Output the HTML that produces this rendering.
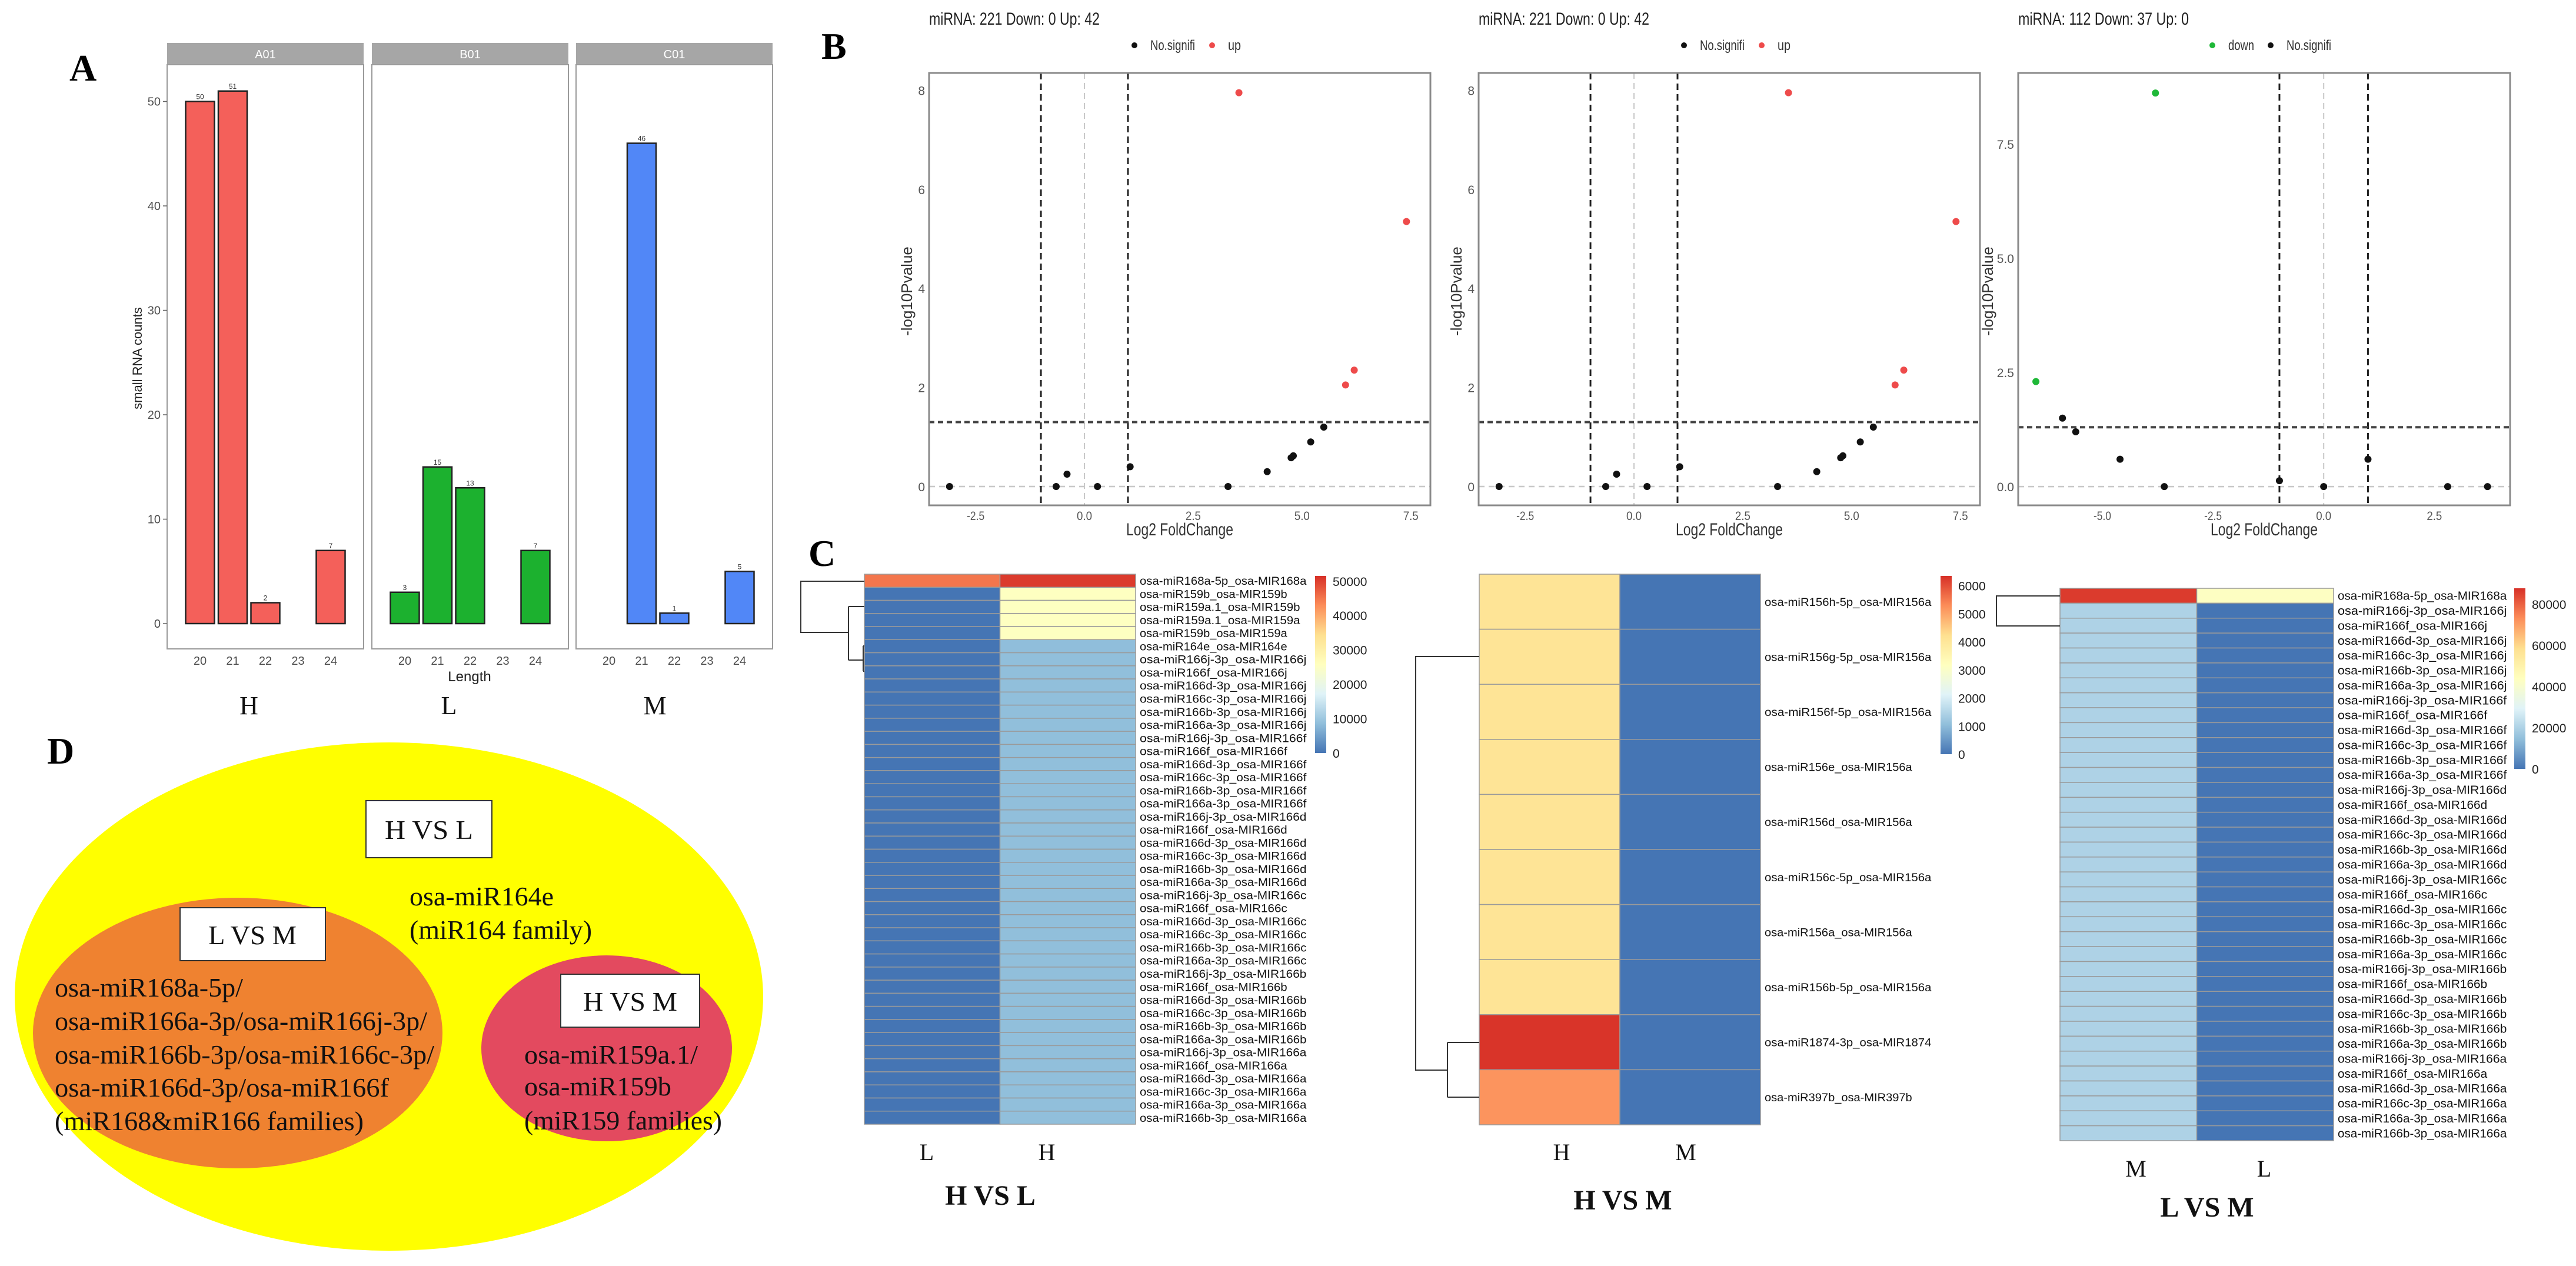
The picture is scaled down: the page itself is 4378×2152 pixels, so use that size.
<!DOCTYPE html>
<html><head><meta charset="utf-8"><style>
html,body{margin:0;padding:0;background:#fff;}
svg{display:block;}
</style></head><body>
<svg id="fig" xmlns="http://www.w3.org/2000/svg" width="4378" height="2152" viewBox="0 0 4378 2152" font-family="Liberation Sans, sans-serif">
<rect width="4378" height="2152" fill="#fff"/>
<g id="barA"></g>
<g id="volB"></g>
<g id="heatC"></g>
<g id="vennD">
  <ellipse cx="661" cy="1694" rx="636" ry="432" fill="#ffff00"/>
  <ellipse cx="404" cy="1756" rx="348" ry="230" fill="#ef8230"/>
  <ellipse cx="1031" cy="1782" rx="213" ry="158" fill="#e34a5f"/>
  <g font-family="Liberation Serif, serif" font-size="46" fill="#111">
    <rect x="622" y="1361" width="214" height="97" fill="#fff" stroke="#333" stroke-width="2"/>
    <text x="729" y="1426" text-anchor="middle" textLength="150" lengthAdjust="spacingAndGlyphs">H VS L</text>
    <rect x="306" y="1543" width="247" height="90" fill="#fff" stroke="#333" stroke-width="2"/>
    <text x="429" y="1605" text-anchor="middle" textLength="150" lengthAdjust="spacingAndGlyphs">L VS M</text>
    <rect x="953" y="1656" width="236" height="90" fill="#fff" stroke="#333" stroke-width="2"/>
    <text x="1071" y="1718" text-anchor="middle" textLength="160" lengthAdjust="spacingAndGlyphs">H VS M</text>
    <text x="696" y="1539" textLength="245" lengthAdjust="spacingAndGlyphs">osa-miR164e</text>
    <text x="696" y="1596" textLength="310" lengthAdjust="spacingAndGlyphs">(miR164 family)</text>
    <text x="93" y="1694" textLength="320" lengthAdjust="spacingAndGlyphs">osa-miR168a-5p/</text>
    <text x="93" y="1751" textLength="633" lengthAdjust="spacingAndGlyphs">osa-miR166a-3p/osa-miR166j-3p/</text>
    <text x="93" y="1808" textLength="645" lengthAdjust="spacingAndGlyphs">osa-miR166b-3p/osa-miR166c-3p/</text>
    <text x="93" y="1864" textLength="568" lengthAdjust="spacingAndGlyphs">osa-miR166d-3p/osa-miR166f</text>
    <text x="93" y="1921" textLength="525" lengthAdjust="spacingAndGlyphs">(miR168&amp;miR166 families)</text>
    <text x="891" y="1808" textLength="295" lengthAdjust="spacingAndGlyphs">osa-miR159a.1/</text>
    <text x="891" y="1862" textLength="250" lengthAdjust="spacingAndGlyphs">osa-miR159b</text>
    <text x="891" y="1920" textLength="336" lengthAdjust="spacingAndGlyphs">(miR159 families)</text>
  </g>
</g>
<g font-family="Liberation Serif, serif" font-weight="bold" font-size="64" fill="#000">
  <text x="118" y="137">A</text>
  <text x="1396" y="100">B</text>
  <text x="1374" y="962">C</text>
  <text x="80" y="1298">D</text>
</g>
</svg>
<script>
// ---------- Panel A data ----------
const barLengths = [20, 21, 22, 23, 24];
const barSamples = ['A01', 'B01', 'C01'];
const barGroupLabels = ['H', 'L', 'M'];
const barCountsA01 = [50, 51, 2, 0, 7];
const barCountsB01 = [3, 15, 13, 0, 7];
const barCountsC01 = [0, 46, 1, 0, 5];
const barYTicks = [0, 10, 20, 30, 40, 50];

// ---------- Panel B data ----------
const volTitles = ['miRNA: 221 Down: 0 Up: 42', 'miRNA: 221 Down: 0 Up: 42', 'miRNA: 112 Down: 37 Up: 0'];
const vol1X = [-3.1, -0.65, -0.4, 0.3, 1.05, 3.3, 4.2, 4.75, 4.8, 5.2, 5.5, 3.55, 7.4, 6.0, 6.2];
const vol1Y = [0, 0, 0.25, 0, 0.4, 0, 0.3, 0.58, 0.62, 0.9, 1.2, 7.95, 5.35, 2.05, 2.35];
const vol1Cls = ['n','n','n','n','n','n','n','n','n','n','n','up','up','up','up'];
const vol2X = [-3.1, -0.65, -0.4, 0.3, 1.05, 3.3, 4.2, 4.75, 4.8, 5.2, 5.5, 3.55, 7.4, 6.0, 6.2];
const vol2Y = [0, 0, 0.25, 0, 0.4, 0, 0.3, 0.58, 0.62, 0.9, 1.2, 7.95, 5.35, 2.05, 2.35];
const vol2Cls = ['n','n','n','n','n','n','n','n','n','n','n','up','up','up','up'];
const vol3X = [-3.8, -6.5, -5.9, -5.6, -4.6, -3.6, -1.0, 0.0, 1.0, 2.8, 3.7];
const vol3Y = [8.62, 2.3, 1.5, 1.2, 0.6, 0, 0.13, 0, 0.6, 0, 0];
const vol3Cls = ['down','down','n','n','n','n','n','n','n','n','n'];
const vol12XTicks = [-2.5, 0.0, 2.5, 5.0, 7.5];
const vol12YTicks = [0, 2, 4, 6, 8];
const vol3XTicks = [-5.0, -2.5, 0.0, 2.5];
const vol3YTicks = [0.0, 2.5, 5.0, 7.5];

// ---------- Panel C data ----------
const hm1Rows = ['osa-miR168a-5p_osa-MIR168a','osa-miR159b_osa-MIR159b','osa-miR159a.1_osa-MIR159b','osa-miR159a.1_osa-MIR159a','osa-miR159b_osa-MIR159a','osa-miR164e_osa-MIR164e',
'osa-miR166j-3p_osa-MIR166j','osa-miR166f_osa-MIR166j','osa-miR166d-3p_osa-MIR166j','osa-miR166c-3p_osa-MIR166j','osa-miR166b-3p_osa-MIR166j','osa-miR166a-3p_osa-MIR166j',
'osa-miR166j-3p_osa-MIR166f','osa-miR166f_osa-MIR166f','osa-miR166d-3p_osa-MIR166f','osa-miR166c-3p_osa-MIR166f','osa-miR166b-3p_osa-MIR166f','osa-miR166a-3p_osa-MIR166f',
'osa-miR166j-3p_osa-MIR166d','osa-miR166f_osa-MIR166d','osa-miR166d-3p_osa-MIR166d','osa-miR166c-3p_osa-MIR166d','osa-miR166b-3p_osa-MIR166d','osa-miR166a-3p_osa-MIR166d',
'osa-miR166j-3p_osa-MIR166c','osa-miR166f_osa-MIR166c','osa-miR166d-3p_osa-MIR166c','osa-miR166c-3p_osa-MIR166c','osa-miR166b-3p_osa-MIR166c','osa-miR166a-3p_osa-MIR166c',
'osa-miR166j-3p_osa-MIR166b','osa-miR166f_osa-MIR166b','osa-miR166d-3p_osa-MIR166b','osa-miR166c-3p_osa-MIR166b','osa-miR166b-3p_osa-MIR166b','osa-miR166a-3p_osa-MIR166b',
'osa-miR166j-3p_osa-MIR166a','osa-miR166f_osa-MIR166a','osa-miR166d-3p_osa-MIR166a','osa-miR166c-3p_osa-MIR166a','osa-miR166a-3p_osa-MIR166a','osa-miR166b-3p_osa-MIR166a'];
const hm1Cols = ['L', 'H'];
const hm1ColL = [45000,0,0,0,0,0,0,0,0,0,0,0,0,0,0,0,0,0,0,0,0,0,0,0,0,0,0,0,0,0,0,0,0,0,0,0,0,0,0,0,0,0];
const hm1ColH = [50500,25500,25500,25500,25500,8500,8600,8600,8600,8600,8600,8600,8600,8600,8600,8600,8600,8600,8600,8600,8600,8600,8600,8600,8600,8600,8600,8600,8600,8600,8600,8600,8600,8600,8600,8600,8600,8600,8600,8600,8600,8600];
const hm1Ticks = [0, 10000, 20000, 30000, 40000, 50000];

const hm2Rows = ['osa-miR156h-5p_osa-MIR156a','osa-miR156g-5p_osa-MIR156a','osa-miR156f-5p_osa-MIR156a','osa-miR156e_osa-MIR156a','osa-miR156d_osa-MIR156a','osa-miR156c-5p_osa-MIR156a','osa-miR156a_osa-MIR156a','osa-miR156b-5p_osa-MIR156a','osa-miR1874-3p_osa-MIR1874','osa-miR397b_osa-MIR397b'];
const hm2Cols = ['H', 'M'];
const hm2ColH = [4100,4100,4100,4100,4100,4100,4100,4100,6300,5200];
const hm2ColM = [0,0,0,0,0,0,0,0,0,0];
const hm2Ticks = [0, 1000, 2000, 3000, 4000, 5000, 6000];

const hm3Rows = ['osa-miR168a-5p_osa-MIR168a',
'osa-miR166j-3p_osa-MIR166j','osa-miR166f_osa-MIR166j','osa-miR166d-3p_osa-MIR166j','osa-miR166c-3p_osa-MIR166j','osa-miR166b-3p_osa-MIR166j','osa-miR166a-3p_osa-MIR166j',
'osa-miR166j-3p_osa-MIR166f','osa-miR166f_osa-MIR166f','osa-miR166d-3p_osa-MIR166f','osa-miR166c-3p_osa-MIR166f','osa-miR166b-3p_osa-MIR166f','osa-miR166a-3p_osa-MIR166f',
'osa-miR166j-3p_osa-MIR166d','osa-miR166f_osa-MIR166d','osa-miR166d-3p_osa-MIR166d','osa-miR166c-3p_osa-MIR166d','osa-miR166b-3p_osa-MIR166d','osa-miR166a-3p_osa-MIR166d',
'osa-miR166j-3p_osa-MIR166c','osa-miR166f_osa-MIR166c','osa-miR166d-3p_osa-MIR166c','osa-miR166c-3p_osa-MIR166c','osa-miR166b-3p_osa-MIR166c','osa-miR166a-3p_osa-MIR166c',
'osa-miR166j-3p_osa-MIR166b','osa-miR166f_osa-MIR166b','osa-miR166d-3p_osa-MIR166b','osa-miR166c-3p_osa-MIR166b','osa-miR166b-3p_osa-MIR166b','osa-miR166a-3p_osa-MIR166b',
'osa-miR166j-3p_osa-MIR166a','osa-miR166f_osa-MIR166a','osa-miR166d-3p_osa-MIR166a','osa-miR166c-3p_osa-MIR166a','osa-miR166a-3p_osa-MIR166a','osa-miR166b-3p_osa-MIR166a'];
const hm3Cols = ['M', 'L'];
const hm3ColM = [86000,20000,20000,20000,20000,20000,20000,20000,20000,20000,20000,20000,20000,20000,20000,20000,20000,20000,20000,20000,20000,20000,20000,20000,20000,20000,20000,20000,20000,20000,20000,20000,20000,20000,20000,20000,20000];
const hm3ColL = [43000,0,0,0,0,0,0,0,0,0,0,0,0,0,0,0,0,0,0,0,0,0,0,0,0,0,0,0,0,0,0,0,0,0,0,0,0,0,0,0,0,0,0];
const hm3Ticks = [0, 20000, 40000, 60000, 80000];

// ---------- helpers ----------
const NS = 'http://www.w3.org/2000/svg';
function mk(parent, tag, attrs, txt) {
  const e = document.createElementNS(NS, tag);
  for (const k in attrs) e.setAttribute(k, attrs[k]);
  if (txt !== undefined) e.textContent = txt;
  parent.appendChild(e);
  return e;
}
function lin(d0, d1, r0, r1) { return v => r0 + (v - d0) / (d1 - d0) * (r1 - r0); }

// ---------- Panel A ----------
(function () {
  const g = document.getElementById('barA');
  const counts = [barCountsA01, barCountsB01, barCountsC01];
  const fills = ['#f4605a', '#1cb12f', '#5187f7'];
  const panelX = [284, 632, 979];
  const pw = 334;
  const yS = lin(0, 50, 1060, 172.5);
  barSamples.forEach((s, p) => {
    const x0 = panelX[p];
    const xS = lin(20, 24, x0 + 56, x0 + 56 + 4 * 55.5);
    let e = mk(g, 'rect', {x: x0, y: 73, width: pw, height: 37, fill: '#a6a6a6'});
    
    
    e = mk(g, 'text', {x: x0 + pw / 2, y: 99, 'text-anchor': 'middle', 'font-size': 20, fill: '#fff'}, s);
    
    
    e = mk(g, 'rect', {x: x0, y: 110, width: pw, height: 993, fill: 'none', stroke: '#9a9a9a', 'stroke-width': 2});
    
    
    barLengths.forEach((L, i) => {
      const v = counts[p][i];
      const cx = xS(L);
      const t = mk(g, 'text', {x: cx, y: 1130, 'text-anchor': 'middle', 'font-size': 20, fill: '#4d4d4d'}, String(L));
      
      
      if (v <= 0) return;
      const r = mk(g, 'rect', {x: cx - 24.5, y: yS(v), width: 49, height: yS(0) - yS(v), fill: fills[p], stroke: '#222', 'stroke-width': 2.5});
      
      
      const vl = mk(g, 'text', {x: cx, y: yS(v) - 4, 'text-anchor': 'middle', 'font-size': 12, fill: '#333'}, String(v));
      
      
    });
    const gl = mk(g, 'text', {x: [423, 763, 1113][p], y: 1214, 'text-anchor': 'middle', 'font-size': 44, 'font-family': 'Liberation Serif, serif', fill: '#111'}, barGroupLabels[p]);
    
    
  });
  barYTicks.forEach(v => {
    const t = mk(g, 'text', {x: 273, y: yS(v) + 7, 'text-anchor': 'end', 'font-size': 20, fill: '#4d4d4d'}, String(v));
    
    
    const l = mk(g, 'line', {x1: 277, x2: 284, y1: yS(v), y2: yS(v), stroke: '#666', 'stroke-width': 1.5});
    
    
  });
  let e = mk(g, 'text', {x: 798, y: 1158, 'text-anchor': 'middle', 'font-size': 24, fill: '#222'}, 'Length');
  
  
  e = mk(g, 'text', {x: 0, y: 0, 'text-anchor': 'middle', 'font-size': 22, fill: '#222', transform: 'translate(241,609) rotate(-90)'}, 'small RNA counts');
  
  
})();

// ---------- Panel B ----------
function volcano(cfg) {
  const g = mk(document.getElementById('volB'), 'g', {});
  
  
  const {x0, x1, y0, y1, xd0, xd1, yd0, yd1} = cfg;
  const xS = lin(xd0, xd1, x0, x1), yS = lin(yd0, yd1, y1, y0);
  let e = mk(g, 'text', {x: x0, y: 42, 'font-size': 30, fill: '#222', textLength: cfg.titleW, lengthAdjust: 'spacingAndGlyphs'}, cfg.title);
  
  
  // legend
  cfg.legend.forEach(it => {
    const c = mk(g, 'circle', {cx: it.x, cy: 77, r: 5, fill: it.c});
    
    
    const t = mk(g, 'text', {x: it.x + 27, y: 85, 'font-size': 24, fill: '#333', textLength: it.w, lengthAdjust: 'spacingAndGlyphs'}, it.t);
    
    
  });
  // reference lines
  const vl = (v, col, w, dash, nm) => { const l = mk(g, 'line', {x1: xS(v), x2: xS(v), y1: y0, y2: y1, stroke: col, 'stroke-width': w, 'stroke-dasharray': dash});   };
  const hl = (v, col, w, dash, nm) => { const l = mk(g, 'line', {x1: x0, x2: x1, y1: yS(v), y2: yS(v), stroke: col, 'stroke-width': w, 'stroke-dasharray': dash});   };
  vl(0, '#c8c8c8', 2, '10 7', 'zero-x-line');
  hl(0, '#c8c8c8', 2.5, '10 7', 'zero-y-line');
  vl(-1, '#222', 3, '11 7', 'fc-threshold-left');
  vl(1, '#222', 3, '11 7', 'fc-threshold-right');
  hl(1.3, '#444', 4, '9 6', 'p-threshold-line');
  const cols = {n: '#111', up: '#ee4b4b', down: '#1fb838'};
  cfg.xs.forEach((xv, i) => {
    const c = mk(g, 'circle', {cx: xS(xv), cy: yS(cfg.ys[i]), r: 6, fill: cols[cfg.cls[i]]});
    
    
  });
  e = mk(g, 'rect', {x: x0, y: y0, width: x1 - x0, height: y1 - y0, fill: 'none', stroke: '#8a8a8a', 'stroke-width': 3});
  
  
  cfg.xt.forEach(v => {
    const t = mk(g, 'text', {x: xS(v), y: 884, 'text-anchor': 'middle', 'font-size': 21, fill: '#555', textLength: v < 0 ? 30 : 26, lengthAdjust: 'spacingAndGlyphs'}, v.toFixed(1));
    
    
  });
  cfg.yt.forEach(v => {
    const t = mk(g, 'text', {x: x0 - 7, y: yS(v) + 8, 'text-anchor': 'end', 'font-size': 21, fill: '#555'}, cfg.yfmt(v));
    
    
  });
  e = mk(g, 'text', {x: (x0 + x1) / 2, y: 910, 'text-anchor': 'middle', 'font-size': 30, fill: '#333', textLength: 182, lengthAdjust: 'spacingAndGlyphs'}, 'Log2 FoldChange');
  
  
  e = mk(g, 'text', {x: 0, y: 0, 'text-anchor': 'middle', 'font-size': 26, fill: '#333', transform: 'translate(' + cfg.ytx + ',495) rotate(-90)'}, '-log10Pvalue');
  
  
}
volcano({id: 'h-vs-l', x0: 1579, x1: 2431, y0: 124, y1: 859, xd0: -3.57, xd1: 7.95, yd0: -0.38, yd1: 8.35,
  title: volTitles[0], titleW: 290, xs: vol1X, ys: vol1Y, cls: vol1Cls, xt: vol12XTicks, yt: vol12YTicks, yfmt: v => String(v), ytx: 1550,
  legend: [{x: 1928, c: '#111', t: 'No.signifi', w: 76}, {x: 2060, c: '#ee4b4b', t: 'up', w: 22}]});
volcano({id: 'h-vs-m', x0: 2513, x1: 3365, y0: 124, y1: 859, xd0: -3.57, xd1: 7.95, yd0: -0.38, yd1: 8.35,
  title: volTitles[1], titleW: 290, xs: vol2X, ys: vol2Y, cls: vol2Cls, xt: vol12XTicks, yt: vol12YTicks, yfmt: v => String(v), ytx: 2484,
  legend: [{x: 2862, c: '#111', t: 'No.signifi', w: 76}, {x: 2994, c: '#ee4b4b', t: 'up', w: 22}]});
volcano({id: 'l-vs-m', x0: 3430, x1: 4266, y0: 124, y1: 859, xd0: -6.9, xd1: 4.21, yd0: -0.41, yd1: 9.06,
  title: volTitles[2], titleW: 290, xs: vol3X, ys: vol3Y, cls: vol3Cls, xt: vol3XTicks, yt: vol3YTicks, yfmt: v => v.toFixed(1), ytx: 3387,
  legend: [{x: 3760, c: '#1fb838', t: 'down', w: 44}, {x: 3859, c: '#111', t: 'No.signifi', w: 76}]});

// ---------- Panel C ----------
const pal = ['#4575B4', '#91BFDB', '#E0F3F8', '#FFFFBF', '#FEE090', '#FC8D59', '#D73027'];
function hex(h) { return [1, 3, 5].map(i => parseInt(h.substr(i, 2), 16)); }
function colorAt(t) {
  t = Math.max(0, Math.min(1, t)) * (pal.length - 1);
  const i = Math.min(pal.length - 2, Math.floor(t)), f = t - i;
  const a = hex(pal[i]), b = hex(pal[i + 1]);
  return 'rgb(' + a.map((v, k) => Math.round(v + (b[k] - v) * f)).join(',') + ')';
}
let gradN = 0;
function heatmap(cfg) {
  const root = document.getElementById('heatC');
  const g = mk(root, 'g', {});
  
  
  const n = cfg.rows.length;
  const rowY = lin(0, n, cfg.y0, cfg.y1);
  const colX = lin(0, 2, cfg.x0, cfg.x1);
  [cfg.c0, cfg.c1].forEach((vals, c) => {
    vals.slice(0, n).forEach((v, r) => {
      const rc = mk(g, 'rect', {x: colX(c), y: rowY(r), width: colX(1) - colX(0), height: rowY(1) - rowY(0), fill: colorAt(v / cfg.max), stroke: '#9a9a9a', 'stroke-width': 1.5});
      
      
    });
  });
  cfg.rows.forEach((nm, r) => {
    const t = mk(g, 'text', {x: cfg.x1 + 7, y: rowY(r + 0.5) + 7, 'font-size': cfg.fs, fill: '#111', textLength: cfg.lw(nm), lengthAdjust: 'spacingAndGlyphs'}, nm);
    
    
  });
  cfg.cols.forEach((c, i) => {
    const t = mk(g, 'text', {x: cfg.colLabX[i], y: cfg.colLabY, 'text-anchor': 'middle', 'font-size': 40, 'font-family': 'Liberation Serif, serif', fill: '#111'}, c);
    
    
  });
  let e = mk(g, 'text', {x: cfg.titleX, y: cfg.titleY, 'text-anchor': 'middle', 'font-size': 48, 'font-weight': 'bold', 'font-family': 'Liberation Serif, serif', fill: '#111'}, cfg.title);
  
  
  // colorbar
  const gid = 'grad' + (gradN++);
  const defs = mk(g, 'defs', {});
  const lg = mk(defs, 'linearGradient', {id: gid, x1: 0, y1: 1, x2: 0, y2: 0});
  pal.forEach((c, i) => mk(lg, 'stop', {offset: i / (pal.length - 1), 'stop-color': c}));
  e = mk(g, 'rect', {x: cfg.cbx, y: cfg.cby0, width: 19, height: cfg.cby1 - cfg.cby0, fill: 'url(#' + gid + ')'});
  
  
  const cy = lin(0, cfg.max, cfg.cby1, cfg.cby0);
  cfg.ticks.forEach(v => {
    const t = mk(g, 'text', {x: cfg.cbx + 30, y: cy(v) + 8, 'font-size': 21, fill: '#222'}, String(v));
    
    
  });
  // dendrogram
  e = mk(g, 'path', {d: cfg.dendro, fill: 'none', stroke: '#333', 'stroke-width': 2});
  
  
}
heatmap({id: 'h-vs-l', rows: hm1Rows, cols: hm1Cols, c0: hm1ColL, c1: hm1ColH, max: 51500, ticks: hm1Ticks,
  x0: 1469, x1: 1930, y0: 976, y1: 1911, fs: 19, lw: s => s.length * 10.9,
  colLabX: [1575, 1779], colLabY: 1972, title: 'H VS L', titleX: 1683, titleY: 2048,
  cbx: 2235, cby0: 979, cby1: 1280,
  dendro: 'M1469,988 H1361 V1075 H1442 M1442,1031 V1122 M1442,1031 H1469 M1442,1122 H1467 M1467,1098 V1141 M1467,1098 H1469 M1467,1141 H1469'});
heatmap({id: 'h-vs-m', rows: hm2Rows, cols: hm2Cols, c0: hm2ColH, c1: hm2ColM, max: 6350, ticks: hm2Ticks,
  x0: 2514, x1: 2992, y0: 976, y1: 1912, fs: 19, lw: s => s.length * 10.9,
  colLabX: [2654, 2865], colLabY: 1972, title: 'H VS M', titleX: 2758, titleY: 2056,
  cbx: 3298, cby0: 979, cby1: 1282,
  dendro: 'M2514,1116 H2406 V1819 H2460 M2460,1772 V1865 M2460,1772 H2514 M2460,1865 H2514'});
heatmap({id: 'l-vs-m', rows: hm3Rows, cols: hm3Cols, c0: hm3ColM, c1: hm3ColL, max: 87700, ticks: hm3Ticks,
  x0: 3501, x1: 3966, y0: 1000, y1: 1939, fs: 20, lw: s => s.length * 11.05,
  colLabX: [3630, 3848], colLabY: 2000, title: 'L VS M', titleX: 3751, titleY: 2068,
  cbx: 4273, cby0: 1000, cby1: 1307,
  dendro: 'M3501,1013 H3393 V1064 H3501'});
</script>
</body></html>
